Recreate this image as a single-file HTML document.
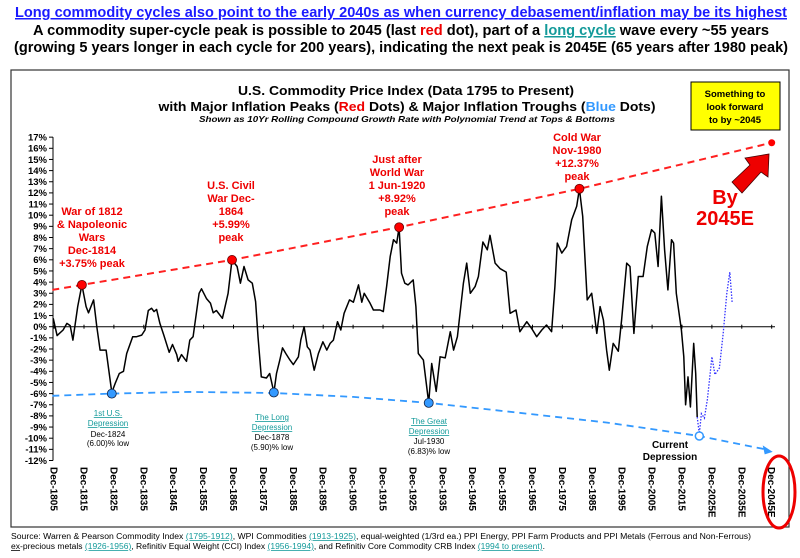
<!DOCTYPE html>
<html><head><meta charset="utf-8"><style>
html,body{margin:0;padding:0;background:#fff;}
svg{display:block;font-family:"Liberation Sans",Arial,sans-serif;}
</style></head><body>
<svg id="c" width="800" height="558" viewBox="0 0 800 558" xmlns="http://www.w3.org/2000/svg">
<text x="401" y="17" text-anchor="middle" font-size="15" font-weight="bold" fill="#1a1aff" text-decoration="underline" textLength="772" lengthAdjust="spacingAndGlyphs">Long commodity cycles also point to the early 2040s as when currency debasement/inflation may be its highest</text>
<text x="401" y="35" text-anchor="middle" font-size="15" font-weight="bold" fill="#000" textLength="736" lengthAdjust="spacingAndGlyphs">A commodity super-cycle peak is possible to 2045 (last <tspan fill="#e00">red</tspan> dot), part of a <tspan fill="#139a9a" text-decoration="underline">long cycle</tspan>  wave every ~55 years</text>
<text x="401" y="52" text-anchor="middle" font-size="15" font-weight="bold" fill="#000" textLength="774" lengthAdjust="spacingAndGlyphs">(growing 5 years longer in each cycle for 200 years), indicating the next peak is 2045E (65 years after 1980 peak)</text>
<rect x="11" y="70" width="778" height="457" fill="none" stroke="#333" stroke-width="1.2"/>
<text x="406" y="95" text-anchor="middle" font-size="13" font-weight="bold" textLength="336" lengthAdjust="spacingAndGlyphs">U.S. Commodity Price Index (Data 1795 to Present)</text>
<text x="407" y="111" text-anchor="middle" font-size="13" font-weight="bold" textLength="497" lengthAdjust="spacingAndGlyphs">with Major Inflation Peaks (<tspan fill="#e00">Red</tspan> Dots) &amp; Major Inflation Troughs (<tspan fill="#3399ff">Blue</tspan> Dots)</text>
<text x="407" y="122" text-anchor="middle" font-size="8.5" font-weight="bold" font-style="italic" textLength="416" lengthAdjust="spacingAndGlyphs">Shown as 10Yr Rolling Compound Growth Rate with Polynomial Trend  at Tops &amp; Bottoms</text>
<rect x="691" y="82" width="89" height="48" fill="#ffff00" stroke="#000" stroke-width="1"/>
<g font-size="9.5" font-weight="bold" text-anchor="middle">
<text x="735" y="97">Something to</text><text x="735" y="110">look forward</text><text x="735" y="123">to by ~2045</text></g>
<g id="plot"></g>
<g font-size="11" font-weight="bold" fill="#e00" text-anchor="middle">
<text x="92" y="215">War of 1812</text><text x="92" y="228">&amp; Napoleonic</text><text x="92" y="241">Wars</text><text x="92" y="254">Dec-1814</text><text x="92" y="267">+3.75% peak</text>
<text x="231" y="189">U.S. Civil</text><text x="231" y="202">War Dec-</text><text x="231" y="215">1864</text><text x="231" y="228">+5.99%</text><text x="231" y="241">peak</text>
<text x="397" y="163">Just after</text><text x="397" y="176">World War</text><text x="397" y="189">1 Jun-1920</text><text x="397" y="202">+8.92%</text><text x="397" y="215">peak</text>
<text x="577" y="141">Cold War</text><text x="577" y="154">Nov-1980</text><text x="577" y="167">+12.37%</text><text x="577" y="180">peak</text>
</g>
<g font-size="20" font-weight="bold" fill="#e00" text-anchor="middle"><text x="725" y="204">By</text><text x="725" y="225">2045E</text></g>
<polygon points="732,182 750,165 745,158 769,154 768,177 761,172 742,193" fill="#e00" stroke="#400" stroke-width="0.8"/>
<g font-size="8" text-anchor="middle">
<text x="108" y="416" fill="#139a9a" text-decoration="underline">1st U.S.</text><text x="108" y="426" fill="#139a9a" text-decoration="underline">Depression</text><text x="108" y="437">Dec-1824</text><text x="108" y="446">(6.00)% low</text>
<text x="272" y="420" fill="#139a9a" text-decoration="underline">The Long</text><text x="272" y="430" fill="#139a9a" text-decoration="underline">Depression</text><text x="272" y="440">Dec-1878</text><text x="272" y="450">(5.90)% low</text>
<text x="429" y="424" fill="#139a9a" text-decoration="underline">The Great</text><text x="429" y="434" fill="#139a9a" text-decoration="underline">Depression</text><text x="429" y="444">Jul-1930</text><text x="429" y="454">(6.83)% low</text>
</g>
<g font-size="10" font-weight="bold" text-anchor="middle"><text x="670" y="448">Current</text><text x="670" y="460">Depression</text></g>
<ellipse cx="779" cy="492" rx="16" ry="36" fill="none" stroke="#e00" stroke-width="3"/>
<g font-size="7.8" fill="#000">
<text x="11" y="539" textLength="740" lengthAdjust="spacingAndGlyphs">Source: Warren &amp; Pearson Commodity Index <tspan fill="#139a9a" text-decoration="underline">(1795-1912)</tspan>, WPI Commodities <tspan fill="#139a9a" text-decoration="underline">(1913-1925)</tspan>, equal-weighted (1/3rd ea.) PPI Energy, PPI Farm Products and PPI Metals (Ferrous and Non-Ferrous)</text>
<text x="11" y="549" textLength="534" lengthAdjust="spacingAndGlyphs"><tspan text-decoration="underline">ex</tspan>-precious metals <tspan fill="#139a9a" text-decoration="underline">(1926-1956)</tspan>, Refinitiv Equal Weight (CCI) Index <tspan fill="#139a9a" text-decoration="underline">(1956-1994)</tspan>, and Refinitiv Core Commodity CRB Index <tspan fill="#139a9a" text-decoration="underline">(1994 to present)</tspan>.</text>
</g>
</svg>
<script>
const yTicks=[17,16,15,14,13,12,11,10,9,8,7,6,5,4,3,2,1,0,-1,-2,-3,-4,-5,-6,-7,-8,-9,-10,-11,-12];
const xLabels=["Dec-1805","Dec-1815","Dec-1825","Dec-1835","Dec-1845","Dec-1855","Dec-1865","Dec-1875","Dec-1885","Dec-1895","Dec-1905","Dec-1915","Dec-1925","Dec-1935","Dec-1945","Dec-1955","Dec-1965","Dec-1975","Dec-1985","Dec-1995","Dec-2005","Dec-2015","Dec-2025E","Dec-2035E","Dec-2045E"];
const xLabelYears=[1805,1815,1825,1835,1845,1855,1865,1875,1885,1895,1905,1915,1925,1935,1945,1955,1965,1975,1985,1995,2005,2015,2025,2035,2045];
const years=[1804.7,1806,1808,1809.3,1810.4,1811.3,1812.9,1814.3,1815.7,1816.5,1818.2,1819.3,1820.4,1822.4,1824.3,1825.4,1826.8,1828.2,1829.3,1831.3,1832.6,1834.3,1835.4,1836.5,1837.6,1838.4,1839.3,1840.4,1841.7,1843.5,1844.6,1846,1846.5,1847.6,1849.3,1850.4,1851.5,1853.5,1854.3,1856,1857.3,1858.2,1859.3,1861.3,1863.2,1864.5,1866.2,1867.3,1868.5,1869.9,1871.3,1872.4,1873.2,1874.3,1876,1877.1,1878.5,1879.4,1880.5,1881.4,1882.5,1883.9,1885,1886.7,1887.5,1888.6,1889.7,1890.6,1892,1893.4,1894.9,1896.2,1897.3,1898.4,1899.8,1900.9,1902,1903.8,1905.1,1906.8,1907.9,1908.7,1910.7,1911.8,1914,1915.1,1916.2,1917.4,1918.5,1919.6,1920.4,1921.2,1922.3,1923.4,1925.1,1926,1926.8,1928.5,1930.3,1931.3,1932.8,1934.1,1935.8,1937.5,1938.6,1939.9,1941.9,1943,1944.2,1945.8,1946.9,1948.4,1949.9,1950.8,1952.5,1954.2,1956.2,1957.5,1959.5,1960.8,1963.1,1964.7,1966.4,1968.1,1969.7,1971.4,1972.5,1973.3,1974.8,1976.4,1978.1,1979.8,1980.7,1981.8,1983.3,1984.8,1986.5,1987.6,1988.7,1989.8,1990.7,1992,1993.7,1994.8,1996.5,1997.6,1998.9,2000.4,2002,2003.4,2004.8,2005.9,2007,2008.1,2009.2,2010.3,2011.5,2012.2,2013.1,2014.8,2015.6,2016.2,2017,2017.8,2018.9,2019.6,2020.1];
const values=[0.75,-0.8,-0.3,0.3,0.1,-1.2,1.8,3.75,1.8,1.25,2.4,0,-2.1,-2.1,-5.9,-5.1,-4.2,-4.0,-2.4,-0.9,-0.9,-0.75,-0.3,1.45,1.65,1.35,1.55,0.3,-0.75,-2.3,-1.6,-2.5,-3.1,-2.5,-3.1,-1.2,-0.9,3.0,3.4,2.5,2.1,1.25,1.45,0.75,3.0,5.99,5.4,3.9,5.4,4.2,3.9,2.25,-0.9,-4.5,-4.6,-4.2,-5.9,-4.2,-3.0,-1.9,-2.4,-3.0,-3.4,-2.7,-1.2,0,-1.8,-2.1,-3.9,-2.4,-1.35,-2.1,-1.5,-1.2,0.45,-0.3,1.2,2.4,2.2,3.75,2.2,3.0,2.1,1.5,1.5,1.35,3.6,6.3,7.8,7.5,8.92,4.8,3.9,3.75,4.2,1.8,-2.4,-3.0,-6.83,-3.3,-5.8,-2.7,-2.8,-0.45,-2.1,-0.9,3.9,5.7,3.0,3.6,4.5,7.6,6.9,8.2,5.7,5.2,4.9,1.2,1.5,-0.45,0.45,-0.15,-0.9,-0.3,0.15,-0.45,3.6,7.5,6.6,7.2,9.6,10.8,12.37,9.9,2.4,3.0,-0.6,1.8,0.6,-2.1,-3.9,-1.5,-2.2,0.6,5.7,5.4,-0.6,4.5,4.5,7.2,8.7,8.4,5.4,11.7,6.9,3.3,7.8,7.5,3.0,-0.3,-2.7,-7.0,-4.5,-7.2,-1.5,-4.2,-8.1];
const projYears=[2020.1,2020.8,2021.5,2022.5,2023.5,2024.3,2025,2026,2027.5,2028.8,2030,2031,2031.8];
const projValues=[-8.1,-9.6,-7.8,-8.2,-6.5,-4.5,-2.7,-4.3,-3.7,-0.5,3.0,4.9,2.1];
const peakYears=[1814.3,1864.5,1920.4,1980.7];
const peakValues=[3.75,5.99,8.92,12.37];
const troughYears=[1824.3,1878.5,1930.3];
const troughValues=[-6.0,-5.9,-6.83];
const redTrendYears=[1804.4,1814.3,1864.5,1920.4,1980.7,2045];
const redTrendValues=[3.3,3.75,5.99,8.92,12.37,16.5];
const blueTrendYears=[1804.4,1824.3,1850,1878.5,1905,1930.3,1960,1990,2020.8,2043];
const blueTrendValues=[-6.2,-6.0,-5.85,-5.95,-6.3,-6.83,-7.7,-8.6,-9.8,-11.0];
const futurePeakYear=2045, futurePeakValue=16.5;
const currentYear=2020.8, currentValue=-9.8;

const NS="http://www.w3.org/2000/svg";
const plot=document.getElementById('plot');
const X=y=>81+(y-1814)*2.99;
const Y=v=>326.7-v*11.15;
function mk(t,a){const e=document.createElementNS(NS,t);for(const k in a)e.setAttribute(k,a[k]);plot.appendChild(e);return e;}
let ax=mk('line',{x1:53,y1:Y(17),x2:53,y2:Y(-12),stroke:'#000','stroke-width':1});


yTicks.forEach(v=>{
  const tk=mk('line',{x1:49,y1:Y(v),x2:53,y2:Y(v),stroke:'#000','stroke-width':1});
  
  
  const t=mk('text',{x:47,y:Y(v)+3.3,'text-anchor':'end','font-size':9.5,'font-weight':'bold'});
  t.textContent=v+'%';
  
  
});
let zl=mk('line',{x1:53,y1:Y(0),x2:775,y2:Y(0),stroke:'#000','stroke-width':1});


xLabels.forEach((lab,i)=>{
  const x=X(xLabelYears[i]);
  const tk=mk('line',{x1:x,y1:Y(0)-2,x2:x,y2:Y(0)+2,stroke:'#000','stroke-width':1});
  
  
  const t=mk('text',{x:0,y:0,transform:`translate(${x-3.5},467) rotate(90)`,'font-size':10,'font-weight':'bold'});
  t.textContent=lab;
  
  
});
const pts=(ys,vs)=>ys.map((y,i)=>X(y).toFixed(1)+','+Y(vs[i]).toFixed(1)).join(' ');
let rt=mk('polyline',{points:pts(redTrendYears,redTrendValues),fill:'none',stroke:'#ff2020','stroke-width':2,'stroke-dasharray':'7,5'});


let bt=mk('polyline',{points:pts(blueTrendYears,blueTrendValues),fill:'none',stroke:'#3399ff','stroke-width':1.8,'stroke-dasharray':'7,5'});


const ex=X(blueTrendYears[blueTrendYears.length-1]),ey=Y(blueTrendValues[blueTrendValues.length-1]);
let ah=mk('polygon',{points:`${ex+7},${ey+2.5} ${ex-3},${ey-4} ${ex-1},${ey+5}`,fill:'#3399ff'});


let ln=mk('polyline',{points:pts(years,values),fill:'none',stroke:'#000','stroke-width':1.5,'stroke-linejoin':'round'});


let pj=mk('polyline',{points:pts(projYears,projValues),fill:'none',stroke:'#3333ff','stroke-width':1.3,'stroke-dasharray':'1.5,1.5'});


peakYears.forEach((y,i)=>{
  const c=mk('circle',{cx:X(y),cy:Y(peakValues[i]),r:4.5,fill:'#ff0000',stroke:'#600','stroke-width':0.8});
  
  
});
let fp=mk('circle',{cx:X(futurePeakYear),cy:Y(futurePeakValue),r:3.5,fill:'#ff0000'});


troughYears.forEach((y,i)=>{
  const c=mk('circle',{cx:X(y),cy:Y(troughValues[i]),r:4.5,fill:'#3399ff',stroke:'#124','stroke-width':0.8});
  
  
});
let cc=mk('circle',{cx:X(currentYear),cy:Y(currentValue),r:4,fill:'#fff',stroke:'#3399ff','stroke-width':1.5});


</script>
</body></html>
